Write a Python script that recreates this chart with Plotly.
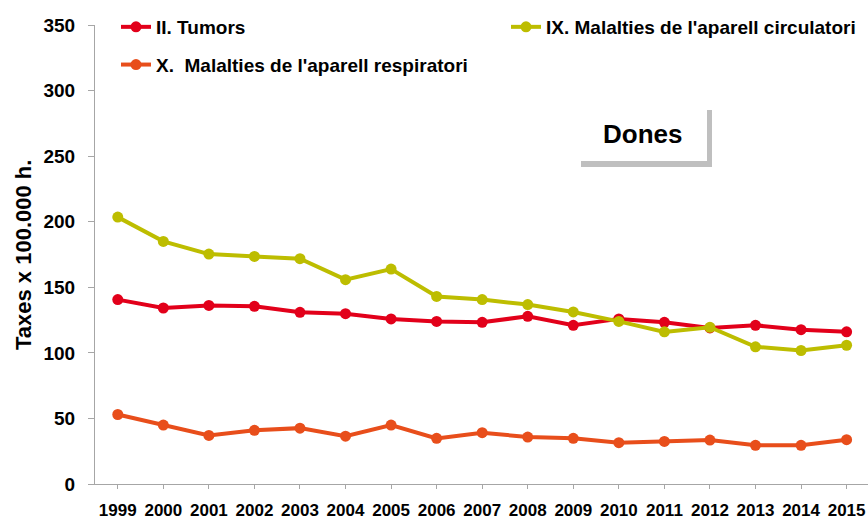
import plotly.graph_objects as go

years = [str(y) for y in range(1999, 2016)]
tumors = [140.6, 134.2, 136.2, 135.5, 130.9, 129.9, 125.9, 124.0, 123.3, 127.9,
          121.0, 125.9, 123.3, 119.0, 121.0, 117.7, 116.0]
circulatori = [203.5, 185.0, 175.3, 173.5, 171.8, 155.8, 163.9, 143.0, 140.6, 136.8,
               131.2, 124.0, 116.0, 119.5, 104.6, 101.8, 105.8]
respiratori = [53.0, 44.9, 37.0, 40.9, 42.6, 36.5, 44.9, 34.8, 39.1, 35.8,
               34.8, 31.5, 32.5, 33.5, 29.5, 29.5, 33.8]
y_ticks = [0, 50, 100, 150, 200, 250, 300, 350]

names = ["II. Tumors", "IX. Malalties de l'aparell circulatori",
         "X.\u00a0 Malalties de l'aparell respiratori"]
colors = ["#E2001A", "#BDBD00", "#E84E1B"]

W, H = 868, 523
ML, MR, MT, MB = 95, 0, 25, 39
FONT = "Liberation Sans, Arial, sans-serif"

fig = go.Figure()
fig.add_trace(go.Scatter(x=years, y=tumors, name=names[0], mode="lines+markers",
                         line=dict(color=colors[0], width=4), marker=dict(size=11, color=colors[0]),
                         legend="legend", legendgroup="a"))
fig.add_trace(go.Scatter(x=years, y=circulatori, name=names[1], mode="lines+markers",
                         line=dict(color=colors[1], width=4), marker=dict(size=11, color=colors[1]),
                         legend="legend2", legendgroup="b"))
fig.add_trace(go.Scatter(x=years, y=respiratori, name=names[2], mode="lines+markers",
                         line=dict(color=colors[2], width=4), marker=dict(size=11, color=colors[2]),
                         legend="legend", legendgroup="c"))

pw = W - ML - MR
ph = H - MT - MB


def px(x):
    return (x - ML) / pw


def py(y):
    return (H - MB - y) / ph


# "Dones" box shadow
fig.add_shape(type="rect", xref="paper", yref="paper",
              x0=px(581), x1=px(712), y0=py(167), y1=py(161),
              fillcolor="#BFBFBF", line=dict(width=0))
fig.add_shape(type="rect", xref="paper", yref="paper",
              x0=px(707), x1=px(712), y0=py(167), y1=py(110),
              fillcolor="#BFBFBF", line=dict(width=0))
fig.add_annotation(text="Dones", xref="paper", yref="paper",
                   x=px(642), y=py(134), xanchor="center", yanchor="middle",
                   showarrow=False,
                   font=dict(family=FONT, size=26, color="#000000", weight="bold"))
# y-axis title
fig.add_annotation(text="Taxes x 100.000 h.", xref="paper", yref="paper",
                   x=px(23), y=py(255), xanchor="center", yanchor="middle",
                   textangle=-90, showarrow=False,
                   font=dict(family=FONT, size=22, color="#000000", weight="bold"))

legend_common = dict(font=dict(family=FONT, size=19, color="#000000", weight="bold"),
                     bgcolor="rgba(0,0,0,0)", xref="container", yref="container",
                     xanchor="left", yanchor="top", tracegroupgap=10,
                     itemclick=False, itemdoubleclick=False)

fig.update_layout(
    width=W, height=H,
    margin=dict(l=ML, r=MR, t=MT, b=MB, autoexpand=False),
    paper_bgcolor="white", plot_bgcolor="white",
    font=dict(family=FONT, color="#000000"),
    showlegend=True,
    legend=dict(x=116 / W, y=1 - 8 / H, orientation="v", **legend_common),
    legend2=dict(x=506 / W, y=1 - 8 / H, orientation="v", **legend_common),
    xaxis=dict(type="category", range=[-0.5, 16.47], showgrid=False, zeroline=False,
               showline=True, linecolor="#A6A6A6", linewidth=1,
               ticks="outside", ticklen=4, tickcolor="#A6A6A6", automargin=False,
               ticklabelstandoff=7,
               tickfont=dict(family=FONT, size=17, color="#000000", weight="bold")),
    yaxis=dict(range=[0, 350], tickvals=y_ticks,
               showgrid=False, zeroline=False, automargin=False,
               showline=True, linecolor="#A6A6A6", linewidth=1,
               ticks="outside", ticklen=6, tickcolor="#A6A6A6",
               tickfont=dict(family=FONT, size=19, color="#000000", weight="bold"),
               ticklabelstandoff=9),
)

fig.write_html("out.html", config={"displayModeBar": False},
               post_script="document.body.style.margin='0px';")
